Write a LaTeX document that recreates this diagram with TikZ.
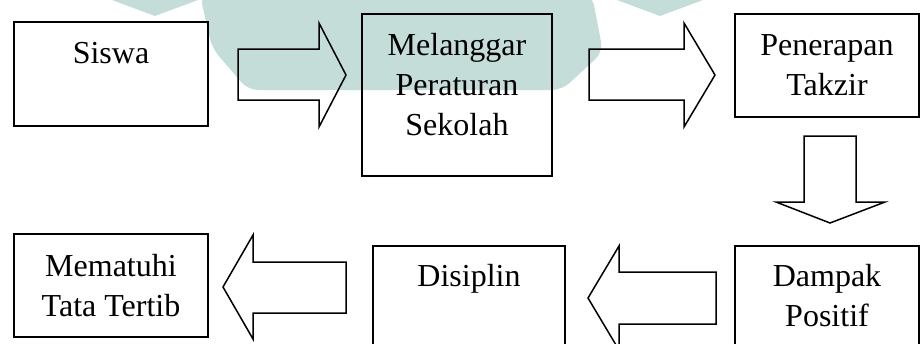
\documentclass[tikz,border=0pt]{standalone}
\usepackage{fontspec}
\setmainfont{Liberation Serif}
\usetikzlibrary{positioning}
\definecolor{tanda}{RGB}{196,221,216}

\begin{document}
\begin{tikzpicture}[x=1pt,y=-1pt,
	kotak/.style={draw,line width=1.5pt,rectangle,inner sep=0pt},
	teks/.style={anchor=base,align=center,inner sep=0pt,font=\fontsize{32}{40}\selectfont},
	panah/.style={draw,line width=1.5pt,line join=miter,miter limit=20}]
	\useasboundingbox (0,0) rectangle (921,343);
	\clip (0,0) rectangle (921,343);
	% watermark
	\fill [tanda] (112,0) -- (198,0) -- (155,16) -- cycle;
	\fill [tanda] (617,0) -- (703,0) -- (660,16) -- cycle;
	\fill [tanda,rounded corners=10] (200,-5) -- (212,48) -- (248,90) -- (562,90) -- (603,52) -- (592,-5) -- cycle;
	% baris atas
	\node [kotak,minimum width=194,minimum height=104] (siswa) at (111,74) {};
	\node [kotak,minimum width=190,minimum height=162] (langgar) at (457,95) {};
	\node [kotak,minimum width=184,minimum height=103] (takzir) at (827,65.5) {};
	% baris bawah
	\node [kotak,minimum width=194,minimum height=103] (patuh) at (111,285.5) {};
	\node [kotak,minimum width=192,minimum height=124] (disiplin) at (469,308) {};
	\node [kotak,minimum width=184,minimum height=124] (dampak) at (827,308) {};
	% teks (base = baris terakhir)
	\node [teks] (siswa-t) at ([yshift=-42pt]siswa.north) {Siswa};
	\node [teks] (langgar-t) at ([yshift=-122pt]langgar.north) {Melanggar\\Peraturan\\Sekolah};
	\node [teks] (takzir-t) at ([yshift=-82pt]takzir.north) {Penerapan\\Takzir};
	\node [teks] (patuh-t) at ([yshift=-83pt]patuh.north) {Mematuhi\\Tata Tertib};
	\node [teks] (disiplin-t) at ([yshift=-41pt]disiplin.north) {Disiplin};
	\node [teks] (dampak-t) at ([yshift=-81pt]dampak.north) {Dampak\\Positif};
	% panah blok
	\draw [panah] (238,49) -- (319,49) -- (319,23) -- (346,75) -- (319,127) -- (319,100) -- (238,100) -- cycle;
	\draw [panah] (589,49) -- (684,49) -- (684,23) -- (715,75) -- (684,127) -- (684,100) -- (589,100) -- cycle;
	\draw [panah] (804,136) -- (856,136) -- (856,202) -- (885,202) -- (830,223) -- (776,202) -- (804,202) -- cycle;
	\draw [panah] (716,272) -- (619,272) -- (619,246) -- (588,298) -- (619,350) -- (619,324) -- (716,324) -- cycle;
	\draw [panah] (346,262) -- (253,262) -- (253,235) -- (223,287) -- (253,339) -- (253,313) -- (346,313) -- cycle;
\end{tikzpicture}
\end{document}
